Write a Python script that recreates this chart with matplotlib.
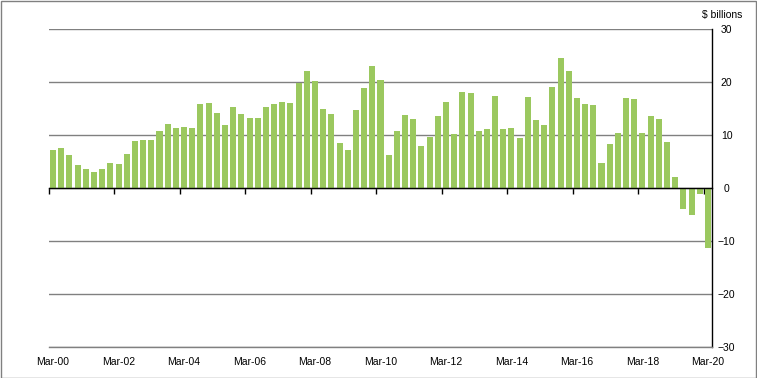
import matplotlib
matplotlib.use("Agg")
import matplotlib.pyplot as plt
from matplotlib.patches import Rectangle
from matplotlib.ticker import NullFormatter

plt.rcParams['font.family'] = ['Liberation Sans', 'DejaVu Sans']

# Quarterly values, Mar-00 .. Mar-20 ($ billions)
values = [
    7.2, 7.6, 6.3, 4.4, 3.5, 3.1, 3.6, 4.8, 4.6, 6.5,
    8.9, 9.1, 9.1, 10.8, 12.1, 11.4, 11.6, 11.4, 15.9, 16.1,
    14.2, 11.8, 15.2, 14.0, 13.3, 13.3, 15.3, 15.9, 16.3, 16.1,
    19.9, 22.1, 20.2, 15.0, 14.0, 8.4, 7.2, 14.8, 18.9, 23.1,
    20.4, 6.3, 10.8, 13.8, 13.1, 8.0, 9.7, 13.6, 16.3, 10.1,
    18.2, 18.0, 10.8, 11.2, 17.4, 11.2, 11.4, 9.5, 17.2, 12.9,
    11.9, 19.1, 24.6, 22.1, 17.0, 15.9, 15.7, 4.7, 8.3, 10.4,
    17.0, 16.7, 10.4, 13.6, 13.1, 8.7, 2.1, -3.9, -5.0, -1.1,
    -11.4,
]
tick_labels = ['Mar-00', 'Mar-02', 'Mar-04', 'Mar-06', 'Mar-08', 'Mar-10',
               'Mar-12', 'Mar-14', 'Mar-16', 'Mar-18', 'Mar-20']
y_ticks = [-30, -20, -10, 0, 10, 20, 30]

W, H = 757, 378
fig = plt.figure(figsize=(W / 100, H / 100), dpi=100)
rect = [49 / W, (H - 347) / H, (712 - 49) / W, (347 - 29) / H]
ax = fig.add_axes(rect)

x = list(range(len(values)))
ax.bar(x, values, width=0.74, color='#9bc85f', zorder=3)

ax.set_xlim(-0.5, len(values) - 0.5)
ax.set_ylim(-30, 30)

# gridlines
ax.set_yticks(y_ticks)
ax.yaxis.grid(True, color='#808080', linewidth=1.0, zorder=0)
ax.set_axisbelow(True)

# y axis on right
ax.yaxis.tick_right()
ax.tick_params(axis='y', length=0, pad=10.5, labelsize=7.5)
for lab in ax.get_yticklabels():
    lab.set_horizontalalignment('center')

# zero axis with tick marks at category boundaries
label_pos = list(range(0, len(values), 8))
ax.spines['bottom'].set_position(('data', 0))
ax.spines['bottom'].set_color('black')
ax.spines['bottom'].set_linewidth(1.0)
ax.spines['bottom'].set_zorder(5)
ax.set_xticks([p - 0.5 for p in label_pos])
ax.xaxis.set_major_formatter(NullFormatter())
ax.tick_params(axis='x', direction='out', length=4, width=1.0, color='black')

for s in ['left', 'top']:
    ax.spines[s].set_visible(False)
ax.spines['right'].set_color('black')
ax.spines['right'].set_linewidth(1.0)
ax.spines['right'].set_zorder(5)

# overlay axes carrying the category labels and the bottom frame line
ax2 = fig.add_axes(rect)
ax2.patch.set_visible(False)
ax2.set_xlim(ax.get_xlim())
ax2.set_ylim(-30, 30)
ax2.set_yticks([])
ax2.set_xticks(label_pos)
ax2.set_xticklabels(tick_labels, fontsize=7.5)
ax2.tick_params(axis='x', length=0, pad=7)
for s in ['left', 'top', 'right']:
    ax2.spines[s].set_visible(False)
ax2.spines['bottom'].set_color('#808080')
ax2.spines['bottom'].set_linewidth(1.0)

fig.text(742 / W, 1 - 15 / H, '$ billions', ha='right', va='center', fontsize=7.5)

# chart border
fig.patches.append(Rectangle((0.5 / W, 0.5 / H), 1 - 1.5 / W, 1 - 1.5 / H,
                             transform=fig.transFigure, fill=False,
                             edgecolor='#808080', linewidth=1.0))

fig.savefig('out.png', dpi=100)
